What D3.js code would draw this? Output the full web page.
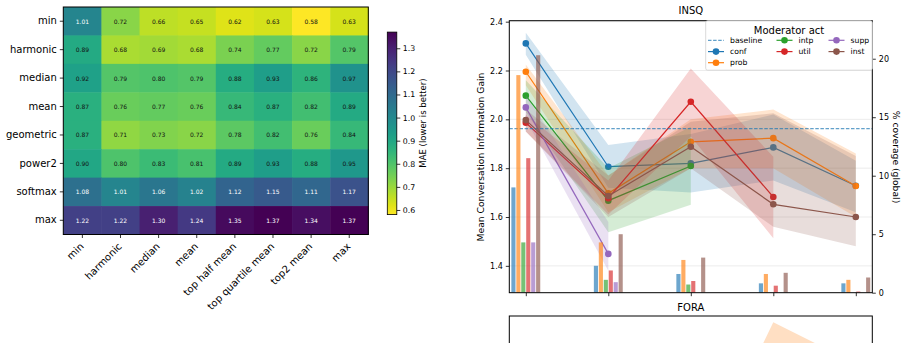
<!DOCTYPE html>
<html lang="en">
<head>
<meta charset="UTF-8">
<title>MAE heatmap and INSQ information gain</title>
<script src="https://d3js.org/d3.v7.min.js"></script>
<style>
  body { margin: 0; background: #fff; }
  svg { display: block; font-family: "DejaVu Sans", sans-serif; }
</style>
</head>
<body>
<svg id="chart" width="907" height="343"></svg>
<script>
// ---- heatmap data (MAE, rows x cols) ----
const rowLabels = ["min", "harmonic", "median", "mean", "geometric", "power2", "softmax", "max"];
const colLabels = ["min", "harmonic", "median", "mean", "top half mean", "top quartile mean", "top2 mean", "max"];
const maeMin       = [1.01, 0.72, 0.66, 0.65, 0.62, 0.63, 0.58, 0.63];
const maeHarmonic  = [0.89, 0.68, 0.69, 0.68, 0.74, 0.77, 0.72, 0.79];
const maeMedian    = [0.92, 0.79, 0.80, 0.79, 0.88, 0.93, 0.86, 0.97];
const maeMean      = [0.87, 0.76, 0.77, 0.76, 0.84, 0.87, 0.82, 0.89];
const maeGeometric = [0.87, 0.71, 0.73, 0.72, 0.78, 0.82, 0.76, 0.84];
const maePower2    = [0.90, 0.80, 0.83, 0.81, 0.89, 0.93, 0.88, 0.95];
const maeSoftmax   = [1.08, 1.01, 1.06, 1.02, 1.12, 1.15, 1.11, 1.17];
const maeMax       = [1.22, 1.22, 1.30, 1.24, 1.35, 1.37, 1.34, 1.37];
const colorTicks = [0.6, 0.7, 0.8, 0.9, 1.0, 1.1, 1.2, 1.3];

// ---- INSQ data ----
const stages = [0, 1, 2, 3, 4];
const acts = ["conf", "prob", "intp", "util", "supp", "inst"];
const actColors = ["#1f77b4", "#ff7f0e", "#2ca02c", "#d62728", "#9467bd", "#8c564b"];
const baselineGain = 1.962;

const confMean = [2.311, 1.806, 1.820, 1.885, 1.728];
const confLow  = [2.265, 1.720, 1.700, 1.750, 1.620];
const confHigh = [2.355, 1.895, 1.940, 2.020, 1.830];
const probMean = [2.195, 1.697, 1.908, 1.923, 1.727];
const probLow  = [2.140, 1.620, 1.800, 1.800, 1.600];
const probHigh = [2.225, 1.770, 2.000, 2.040, 1.860];
const intpMean = [2.097, 1.667, 1.809, null, null];
const intpLow  = [2.030, 1.538, 1.650, null, null];
const intpHigh = [2.160, 1.800, 1.970, null, null];
const utilMean = [1.986, 1.677, 2.072, 1.682, null];
const utilLow  = [1.950, 1.610, 1.930, 1.513, null];
const utilHigh = [2.020, 1.750, 2.208, 1.847, null];
const suppMean = [2.049, 1.449, null, null, null];
const suppLow  = [2.000, 1.380, null, null, null];
const suppHigh = [2.100, 1.580, null, null, null];
const instMean = [1.997, 1.686, 1.888, 1.652, 1.600];
const instLow  = [1.950, 1.600, 1.800, 1.560, 1.480];
const instHigh = [2.040, 1.770, 1.990, 2.025, 1.850];

// % coverage (global) per stage
const confCoverage = [9.0, 2.3, 1.6, 0.8, 0.8];
const probCoverage = [18.6, 4.3, 2.8, 1.6, 1.1];
const intpCoverage = [4.3, 1.1, 0.7, 0, 0];
const utilCoverage = [11.5, 1.9, 1.0, 0.6, 0.1];
const suppCoverage = [4.3, 0.9, 0, 0, 0];
const instCoverage = [20.3, 5.0, 3.0, 1.7, 1.3];

const gainTicks = [1.4, 1.6, 1.8, 2.0, 2.2, 2.4];
const coverageTicks = [0, 5, 10, 15, 20];

// FORA panel (only the top edge is in frame)
const foraProbLow  = [null, null, 1.60, 1.95, 1.70];
const foraProbHigh = [null, null, 1.68, 2.378, 2.21];

const svg = d3.select("#chart");

function styleAxis(g, size) {
  g.select(".domain").remove();
  g.selectAll("line").attr("stroke", "#000").attr("stroke-width", 0.8);
  g.selectAll("text").attr("font-size", size).attr("font-family", "DejaVu Sans").attr("fill", "#000");
}

// ================= heatmap =================
const maeRows = [maeMin, maeHarmonic, maeMedian, maeMean, maeGeometric, maePower2, maeSoftmax, maeMax];
const cells = [];
rowLabels.forEach((r, i) => colLabels.forEach((c, j) => cells.push({ r, c, v: maeRows[i][j] })));

const hmX = d3.scaleBand().domain(colLabels).range([63.3, 368.3]);
const hmY = d3.scaleBand().domain(rowLabels).range([7, 234.5]);
const vmin = d3.min(cells, d => d.v), vmax = d3.max(cells, d => d.v);
const color = d3.scaleSequential(d3.interpolateViridis).domain([vmax, vmin]);

const hm = svg.append("g");
hm.selectAll("rect.cell")
  .data(cells)
  .join("rect")
  .attr("class", "cell")
  .attr("x", d => hmX(d.c))
  .attr("y", d => hmY(d.r))
  .attr("width", hmX.bandwidth() + 0.5)
  .attr("height", hmY.bandwidth() + 0.5)
  .attr("fill", d => color(d.v));

hm.selectAll("text.val")
  .data(cells)
  .join("text")
  .attr("class", "val")
  .attr("x", d => hmX(d.c) + hmX.bandwidth() / 2)
  .attr("y", d => hmY(d.r) + hmY.bandwidth() / 2)
  .attr("text-anchor", "middle")
  .attr("dominant-baseline", "central")
  .attr("font-size", 6)
  .attr("fill", d => d.v >= 1.0 ? "#fff" : "#111")
  .text(d => d.v.toFixed(2));

hm.append("rect")
  .attr("x", 63.3).attr("y", 7)
  .attr("width", 305).attr("height", 227.5)
  .attr("fill", "none").attr("stroke", "#000").attr("stroke-width", 1);

hm.append("g")
  .attr("transform", "translate(63.3,0)")
  .call(d3.axisLeft(hmY).tickSize(3.5).tickPadding(3))
  .call(g => styleAxis(g, 10));

hm.append("g")
  .attr("transform", "translate(0,234.5)")
  .call(d3.axisBottom(hmX).tickSize(3.5).tickFormat(""))
  .call(g => styleAxis(g, 10));
hm.selectAll("text.xlab")
  .data(colLabels)
  .join("text")
  .attr("class", "xlab")
  .attr("transform", d => `translate(${hmX(d) + hmX.bandwidth() / 2 + 2},247) rotate(-45)`)
  .attr("text-anchor", "end")
  .attr("font-size", 10)
  .text(d => d);

// colorbar
const cbY = d3.scaleLinear().domain([vmin, vmax]).range([214.6, 32.1]);
const grad = svg.append("defs").append("linearGradient")
  .attr("id", "cbgrad").attr("x1", 0).attr("y1", 1).attr("x2", 0).attr("y2", 0);
d3.range(0, 1.0001, 0.05).forEach(t => {
  grad.append("stop").attr("offset", t).attr("stop-color", color(vmin + t * (vmax - vmin)));
});
svg.append("rect")
  .attr("x", 387.3).attr("y", cbY(vmax))
  .attr("width", 9.5).attr("height", cbY(vmin) - cbY(vmax))
  .attr("fill", "url(#cbgrad)").attr("stroke", "#000").attr("stroke-width", 0.8);
svg.append("g")
  .attr("transform", "translate(396.8,0)")
  .call(d3.axisRight(cbY).tickValues(colorTicks).tickFormat(d3.format(".1f")).tickSize(3.5).tickPadding(2.5))
  .call(g => styleAxis(g, 7.8));
svg.append("text")
  .attr("transform", "translate(425.5,123) rotate(-90)")
  .attr("text-anchor", "middle")
  .attr("font-size", 8.5)
  .text("MAE (lower is better)");

// ================= INSQ panel =================
const px = d3.scaleLinear().domain([-0.2, 4.2]).range([509.3, 872.3]);
const py = d3.scaleLinear().domain([1.29, 2.404]).range([292.7, 20.7]);
const pyCov = d3.scaleLinear().domain([0, 23.25]).range([292.7, 20.7]);

const series = [
  { mean: confMean, lo: confLow, hi: confHigh, cov: confCoverage },
  { mean: probMean, lo: probLow, hi: probHigh, cov: probCoverage },
  { mean: intpMean, lo: intpLow, hi: intpHigh, cov: intpCoverage },
  { mean: utilMean, lo: utilLow, hi: utilHigh, cov: utilCoverage },
  { mean: suppMean, lo: suppLow, hi: suppHigh, cov: suppCoverage },
  { mean: instMean, lo: instLow, hi: instHigh, cov: instCoverage }
].map((s, i) => ({
  act: acts[i],
  color: actColors[i],
  idx: i,
  pts: stages.map((st, k) => ({ st, m: s.mean[k], lo: s.lo[k], hi: s.hi[k], cov: s.cov[k] }))
}));

svg.append("clipPath").attr("id", "insqClip")
  .append("rect").attr("x", 509.3).attr("y", 20.7).attr("width", 363).attr("height", 272);

const panel = svg.append("g");

panel.append("g")
  .selectAll("line")
  .data(gainTicks)
  .join("line")
  .attr("x1", 509.3).attr("x2", 872.3)
  .attr("y1", d => py(d)).attr("y2", d => py(d))
  .attr("stroke", "#b0b0b0").attr("stroke-opacity", 0.3).attr("stroke-width", 0.8);

const plot = panel.append("g").attr("clip-path", "url(#insqClip)");

const area = d3.area()
  .defined(d => d.m != null)
  .x(d => px(d.st)).y0(d => py(d.lo)).y1(d => py(d.hi));
const line = d3.line()
  .defined(d => d.m != null)
  .x(d => px(d.st)).y(d => py(d.m));

series.forEach(s => {
  plot.append("path")
    .datum(s.pts)
    .attr("d", area)
    .attr("fill", s.color).attr("fill-opacity", 0.2);
  plot.append("path")
    .datum(s.pts)
    .attr("d", line)
    .attr("fill", "none").attr("stroke", s.color).attr("stroke-width", 1.2);
  plot.selectAll(null)
    .data(s.pts.filter(d => d.m != null))
    .join("circle")
    .attr("cx", d => px(d.st)).attr("cy", d => py(d.m))
    .attr("r", 3.3).attr("fill", s.color);
});

plot.append("line")
  .attr("x1", 509.3).attr("x2", 872.3)
  .attr("y1", py(baselineGain)).attr("y2", py(baselineGain))
  .attr("stroke", "#1f77b4").attr("stroke-opacity", 0.7)
  .attr("stroke-width", 1.2).attr("stroke-dasharray", "3.5,1.6");

// coverage bars (twin axis)
const barStep = 0.06, barW = 0.05;
series.forEach(s => {
  plot.selectAll(null)
    .data(s.pts.filter(d => d.cov > 0))
    .join("rect")
    .attr("x", d => px(d.st + (s.idx - 2.5) * barStep - barW / 2))
    .attr("width", px(barW) - px(0))
    .attr("y", d => pyCov(d.cov))
    .attr("height", d => pyCov(0) - pyCov(d.cov))
    .attr("fill", s.color).attr("fill-opacity", 0.65);
});

panel.append("rect")
  .attr("x", 509.3).attr("y", 20.7).attr("width", 363).attr("height", 272)
  .attr("fill", "none").attr("stroke", "#000").attr("stroke-width", 1);

panel.append("g")
  .attr("transform", "translate(509.3,0)")
  .call(d3.axisLeft(py).tickValues(gainTicks).tickFormat(d3.format(".1f")).tickSize(3.5).tickPadding(3))
  .call(g => styleAxis(g, 8));
panel.append("g")
  .attr("transform", "translate(872.3,0)")
  .call(d3.axisRight(pyCov).tickValues(coverageTicks).tickSize(3.5).tickPadding(3))
  .call(g => styleAxis(g, 8));
panel.append("g")
  .attr("transform", "translate(0,292.7)")
  .call(d3.axisBottom(px).tickValues(stages).tickSize(3.5).tickFormat(""))
  .call(g => styleAxis(g, 8));

panel.append("text")
  .attr("x", 690.8).attr("y", 14)
  .attr("text-anchor", "middle").attr("font-size", 10)
  .text("INSQ");
panel.append("text")
  .attr("transform", "translate(484,157) rotate(-90)")
  .attr("text-anchor", "middle").attr("font-size", 9.2)
  .text("Mean Conversation Information Gain");
panel.append("text")
  .attr("transform", "translate(893,157) rotate(90)")
  .attr("text-anchor", "middle").attr("font-size", 9.2)
  .text("% coverage (global)");

// legend
const legend = panel.append("g");
legend.append("rect")
  .attr("x", 705.7).attr("y", 20.7).attr("width", 166.6).attr("height", 49.5)
  .attr("rx", 2).attr("fill", "#fff").attr("fill-opacity", 0.85)
  .attr("stroke", "#d0d0d0").attr("stroke-width", 0.8);
legend.append("text")
  .attr("x", 789).attr("y", 30.3)
  .attr("text-anchor", "middle").attr("dominant-baseline", "central").attr("font-size", 10)
  .text("Moderator act");

const legendItems = [{ label: "baseline", color: "#1f77b4", dashed: true }]
  .concat(acts.map((a, i) => ({ label: a, color: actColors[i], dashed: false })));
const legendCols = [708, 776.5, 828.5];
const legendRows = [40.3, 51.6, 62.7];
const perCol = [3, 2, 2];
let k = 0;
perCol.forEach((n, c) => {
  for (let r = 0; r < n; r++, k++) {
    const it = legendItems[k];
    const gx = legendCols[c], gy = legendRows[r];
    legend.append("line")
      .attr("x1", gx).attr("x2", gx + 16).attr("y1", gy).attr("y2", gy)
      .attr("stroke", it.color).attr("stroke-width", 1.2)
      .attr("stroke-opacity", it.dashed ? 0.7 : 1)
      .attr("stroke-dasharray", it.dashed ? "3.5,1.6" : null);
    if (!it.dashed) {
      legend.append("circle").attr("cx", gx + 8).attr("cy", gy).attr("r", 3.3).attr("fill", it.color);
    }
    legend.append("text")
      .attr("x", gx + 22).attr("y", gy)
      .attr("dominant-baseline", "central").attr("font-size", 7.7)
      .text(it.label);
  }
});

// ================= FORA panel (cut off) =================
const fy = d3.scaleLinear().domain([1.29, 2.404]).range([588, 316]);
svg.append("clipPath").attr("id", "foraClip")
  .append("rect").attr("x", 509.3).attr("y", 316).attr("width", 363).attr("height", 272);
const foraPts = stages.map((st, k) => ({ st, lo: foraProbLow[k], hi: foraProbHigh[k] }));
svg.append("path")
  .datum(foraPts)
  .attr("clip-path", "url(#foraClip)")
  .attr("d", d3.area().defined(d => d.hi != null).x(d => px(d.st)).y0(d => fy(d.lo)).y1(d => fy(d.hi)))
  .attr("fill", "#ff7f0e").attr("fill-opacity", 0.25);
svg.append("rect")
  .attr("x", 509.3).attr("y", 316).attr("width", 363).attr("height", 272)
  .attr("fill", "none").attr("stroke", "#000").attr("stroke-width", 1);
svg.append("text")
  .attr("x", 690.8).attr("y", 311)
  .attr("text-anchor", "middle").attr("font-size", 10)
  .text("FORA");
</script>
</body>
</html>
